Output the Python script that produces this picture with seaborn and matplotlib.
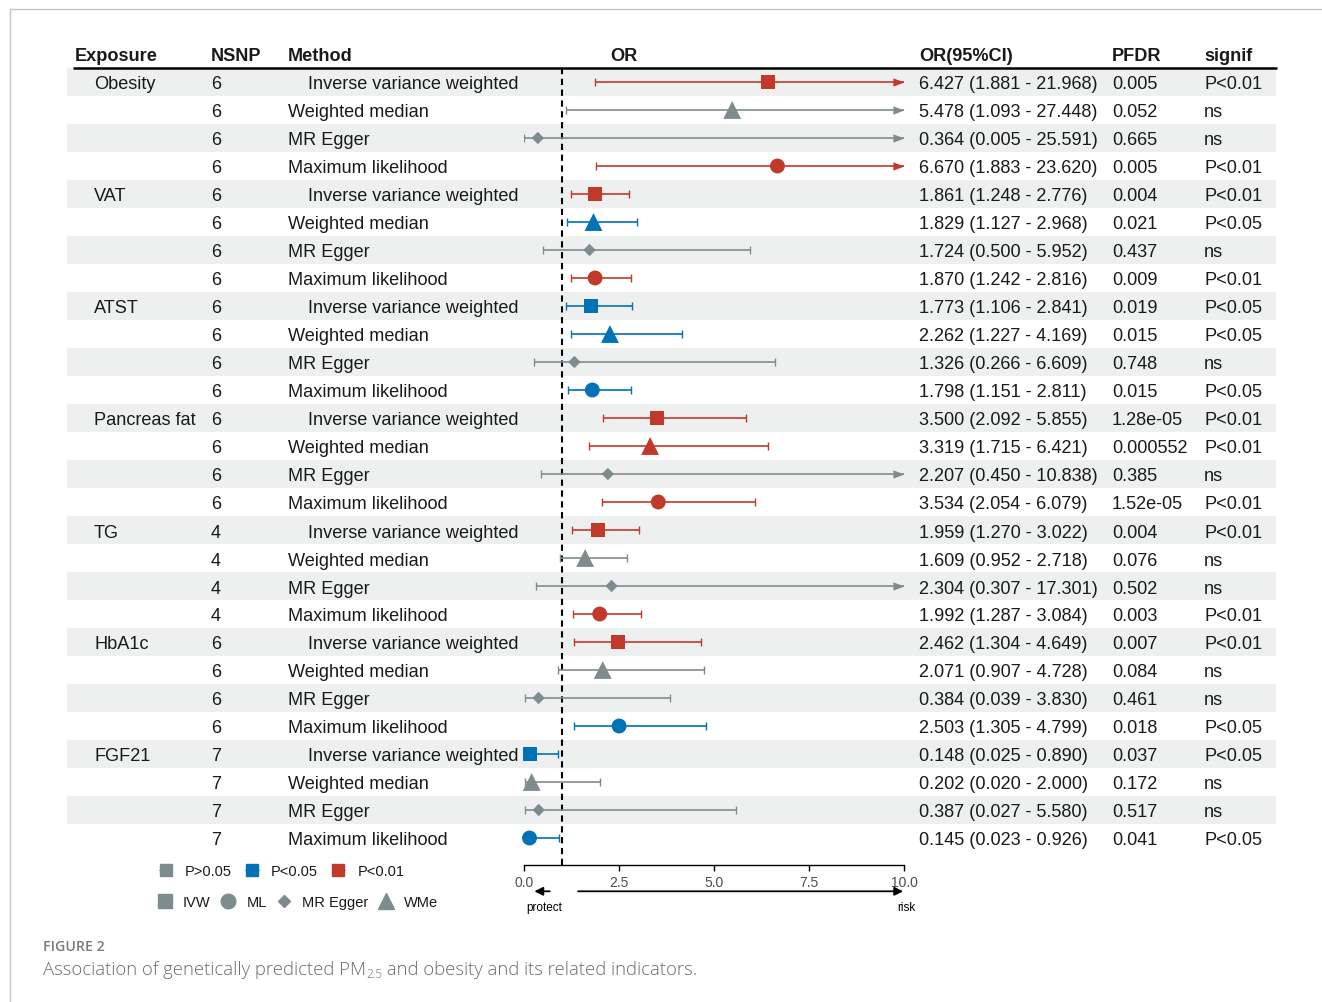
import numpy as np
import pandas as pd
import matplotlib
matplotlib.use("Agg")
import matplotlib.pyplot as plt
from matplotlib.lines import Line2D
import seaborn as sns

# ---------------- data ----------------
exposures = ["Obesity", "VAT", "ATST", "Pancreas fat", "TG", "HbA1c", "FGF21"]
nsnp = [6, 6, 6, 6, 4, 6, 7]
methods = ["    Inverse variance weighted", "Weighted median", "MR Egger", "Maximum likelihood"]
method_codes = ["IVW", "WMe", "MR Egger", "ML"]

or_est = [6.427, 5.478, 0.364, 6.670,
          1.861, 1.829, 1.724, 1.870,
          1.773, 2.262, 1.326, 1.798,
          3.500, 3.319, 2.207, 3.534,
          1.959, 1.609, 2.304, 1.992,
          2.462, 2.071, 0.384, 2.503,
          0.148, 0.202, 0.387, 0.145]
or_low = [1.881, 1.093, 0.005, 1.883,
          1.248, 1.127, 0.500, 1.242,
          1.106, 1.227, 0.266, 1.151,
          2.092, 1.715, 0.450, 2.054,
          1.270, 0.952, 0.307, 1.287,
          1.304, 0.907, 0.039, 1.305,
          0.025, 0.020, 0.027, 0.023]
or_high = [21.968, 27.448, 25.591, 23.620,
           2.776, 2.968, 5.952, 2.816,
           2.841, 4.169, 6.609, 2.811,
           5.855, 6.421, 10.838, 6.079,
           3.022, 2.718, 17.301, 3.084,
           4.649, 4.728, 3.830, 4.799,
           0.890, 2.000, 5.580, 0.926]
pfdr = ["0.005", "0.052", "0.665", "0.005",
        "0.004", "0.021", "0.437", "0.009",
        "0.019", "0.015", "0.748", "0.015",
        "1.28e-05", "0.000552", "0.385", "1.52e-05",
        "0.004", "0.076", "0.502", "0.003",
        "0.007", "0.084", "0.461", "0.018",
        "0.037", "0.172", "0.517", "0.041"]
signif = ["P<0.01", "ns", "ns", "P<0.01",
          "P<0.01", "P<0.05", "ns", "P<0.01",
          "P<0.05", "P<0.05", "ns", "P<0.05",
          "P<0.01", "P<0.01", "ns", "P<0.01",
          "P<0.01", "ns", "ns", "P<0.01",
          "P<0.01", "ns", "ns", "P<0.05",
          "P<0.05", "ns", "ns", "P<0.05"]

n_meth = len(methods)
df = pd.DataFrame({
    "exposure": np.repeat(exposures, n_meth),
    "nsnp": np.repeat(nsnp, n_meth),
    "method": methods * len(exposures),
    "code": method_codes * len(exposures),
    "OR": or_est, "low": or_low, "high": or_high,
    "pfdr": pfdr, "signif": signif,
})
df["row"] = np.arange(len(df))
df["first"] = df["row"] % n_meth == 0
df["ci_text"] = [f"{o:.3f} ({l:.3f} - {h:.3f})" for o, l, h in zip(df.OR, df.low, df.high)]

# ---------------- style ----------------
sns.set_style("white")
plt.rcParams["font.family"] = ["Liberation Sans", "DejaVu Sans"]

RED, BLUE, GRAY = "#C0392B", "#0072B5", "#7F8C8D"
palette = {"P<0.01": RED, "P<0.05": BLUE, "ns": GRAY}
markers = {"IVW": "s", "ML": "o", "MR Egger": "D", "WMe": "^"}
msizes = {"IVW": 100, "ML": 115, "MR Egger": 40, "WMe": 165}
STRIPE = "#EEF0F0"
TXT = "#1a1a1a"
FS = 13.1

W, H, DPI = 1322, 1003, 100
fig = plt.figure(figsize=(W / DPI, H / DPI), dpi=DPI)
fig.patch.set_facecolor("white")


def px_box(x0, y0, x1, y1):
    return [x0 / W, 1 - y1 / H, (x1 - x0) / W, (y1 - y0) / H]


n_rows = len(df)
row_px = 28.0
txt_dy = 2.0 / row_px   # optical nudge of cell text within its row

# ---------------- table part ----------------
tab = fig.add_axes(px_box(67, 69, 1276, 69 + row_px * n_rows))
tab.set_xlim(67, 1276)
tab.set_ylim(n_rows - 0.5, -0.5)
tab.axis("off")

for r in range(0, n_rows, 2):
    tab.axhspan(r - 0.5, r + 0.5, color=STRIPE, lw=0, zorder=0)

col_x = {"exposure": 94, "nsnp": 211, "method": 288, "ci": 919, "pfdr": 1112, "signif": 1204}
head_x = {"Exposure": 75, "NSNP": 211, "Method": 288, "OR(95%CI)": 919, "PFDR": 1112, "signif": 1204}
for label, x in head_x.items():
    tab.text(x, -1.0 + txt_dy, label, fontsize=FS, fontweight="bold", color=TXT, va="center", ha="left")
tab.text(624, -1.0 + txt_dy, "OR", fontsize=FS, fontweight="bold", color=TXT, va="center", ha="center")
tab.plot([73, 1277], [-0.5, -0.5], color="black", lw=1.8, clip_on=False, solid_capstyle="butt")

for _, r in df.iterrows():
    y = r.row + txt_dy
    if r["first"]:
        tab.text(col_x["exposure"], y, r.exposure, fontsize=FS, color=TXT, va="center")
    tab.text(col_x["nsnp"], y, str(r.nsnp), fontsize=FS, color=TXT, va="center")
    tab.text(col_x["method"], y, r.method, fontsize=FS, color=TXT, va="center")
    tab.text(col_x["ci"], y, r.ci_text, fontsize=FS, color=TXT, va="center")
    tab.text(col_x["pfdr"], y, r.pfdr, fontsize=FS, color=TXT, va="center")
    tab.text(col_x["signif"], y, r.signif, fontsize=FS, color=TXT, va="center")

# ---------------- forest part ----------------
x_max = 10.0
ax = fig.add_axes(px_box(524, 69, 904, 866))
ax.patch.set_alpha(0)
ax.set_zorder(tab.get_zorder() + 1)

ax.axvline(1, color="black", lw=1.5, ls=(0, (3, 2.2)), zorder=1)

arrow_head = [(-2, -0.75), (0, 0), (-2, 0.75), (-2, -0.75)]
for _, r in df.iterrows():
    c = palette[r.signif]
    hi = min(r.high, x_max)
    ax.hlines(r.row, r.low, hi, color=c, lw=1.2, zorder=2)
    ax.plot([r.low], [r.row], marker="|", ms=6, mew=1.0, color=c, zorder=2)
    if r.high <= x_max:
        ax.plot([hi], [r.row], marker="|", ms=6, mew=1.0, color=c, zorder=2)
    else:
        ax.plot([x_max], [r.row], marker=arrow_head, ms=16, mew=0, color=c, zorder=2, clip_on=False)

sns.scatterplot(data=df, x="OR", y="row", hue="signif", palette=palette,
                style="code", markers=markers, size="code", sizes=msizes,
                linewidth=0, legend=False, ax=ax, zorder=3, clip_on=False)

ax.set_xlim(0, x_max)
ax.set_ylim(n_rows - 0.5 + (866 - 69 - row_px * n_rows) / row_px, -0.5)
ax.set_xlabel("")
ax.set_ylabel("")
ax.set_yticks([])
ax.set_xticks([0, 2.5, 5, 7.5, 10])
ax.set_xticklabels(["0.0", "2.5", "5.0", "7.5", "10.0"])
for s in ["top", "right", "left"]:
    ax.spines[s].set_visible(False)
ax.spines["bottom"].set_color("black")
ax.spines["bottom"].set_linewidth(1.0)
ax.tick_params(axis="x", direction="out", length=4.5, width=1.0, color="black",
               labelsize=10, labelcolor="#4d4d4d", pad=3, bottom=True)

xt = ax.get_xaxis_transform()
ax.annotate("", xy=(0.2, -0.033), xytext=(0.75, -0.033), xycoords=xt, textcoords=xt,
            arrowprops=dict(arrowstyle="-|>,head_length=0.5,head_width=0.25", color="black", lw=1.3))
ax.annotate("", xy=(10.05, -0.033), xytext=(1.35, -0.033), xycoords=xt, textcoords=xt,
            arrowprops=dict(arrowstyle="-|>,head_length=0.5,head_width=0.25", color="black", lw=1.3))
ax.text(0.53, -0.053, "protect", transform=xt, ha="center", va="center", fontsize=8.5, color="black")
ax.text(10.05, -0.053, "risk", transform=xt, ha="center", va="center", fontsize=8.5, color="black")

# ---------------- legends ----------------
sig_handles = [Line2D([], [], marker="s", color=col, ls="-", lw=0.6, ms=9)
               for col in (GRAY, BLUE, RED)]
leg1 = fig.legend(sig_handles, ["P>0.05", "P<0.05", "P<0.01"], loc="center left",
                  bbox_to_anchor=(159 / W, 1 - 872 / H), ncol=3, frameon=False,
                  fontsize=10.5, handlelength=0.9, handletextpad=0.85, columnspacing=0.95,
                  borderpad=0, borderaxespad=0)
shape_handles = [Line2D([], [], marker=markers[k], color=GRAY, ls="", ms=m)
                 for k, m in (("IVW", 10), ("ML", 10.5), ("MR Egger", 6.5), ("WMe", 12))]
leg2 = fig.legend(shape_handles, ["IVW", "ML", "MR Egger", "WMe"], loc="center left",
                  bbox_to_anchor=(158 / W, 1 - 903 / H), ncol=4, frameon=False,
                  fontsize=10.5, handlelength=1.0, handletextpad=0.72, columnspacing=0.72,
                  borderpad=0, borderaxespad=0)
for lg in (leg1, leg2):
    for t in lg.get_texts():
        t.set_color(TXT)

# ---------------- caption & frame ----------------
fig.add_artist(Line2D([10 / W, 1], [1 - 10 / H, 1 - 10 / H], transform=fig.transFigure,
                      color="#c4c4c4", lw=1.0))
fig.add_artist(Line2D([10 / W, 10 / W], [0, 1 - 10 / H], transform=fig.transFigure,
                      color="#c4c4c4", lw=1.0))

cap_font = ["Open Sans", "DejaVu Sans"]
fig.text(43 / W, 1 - 951 / H, "FIGURE 2", fontsize=10.2, fontweight="semibold",
         color="#7a7a7a", family=cap_font, va="baseline")

renderer = fig.canvas.get_renderer()
cx = 43 / W
base = 1 - 975 / H
for s, dy, fs in [("Association of genetically predicted PM", 0, 13.3),
                  ("2.5", -3 / H, 8.5),
                  (" and obesity and its related indicators.", 0, 13.3)]:
    t = fig.text(cx, base + dy, s, fontsize=fs, fontweight="light", color="#6b6b6b",
                 family=cap_font, va="baseline")
    cx += t.get_window_extent(renderer).width / W

fig.savefig("out.png", dpi=DPI, facecolor="white")
